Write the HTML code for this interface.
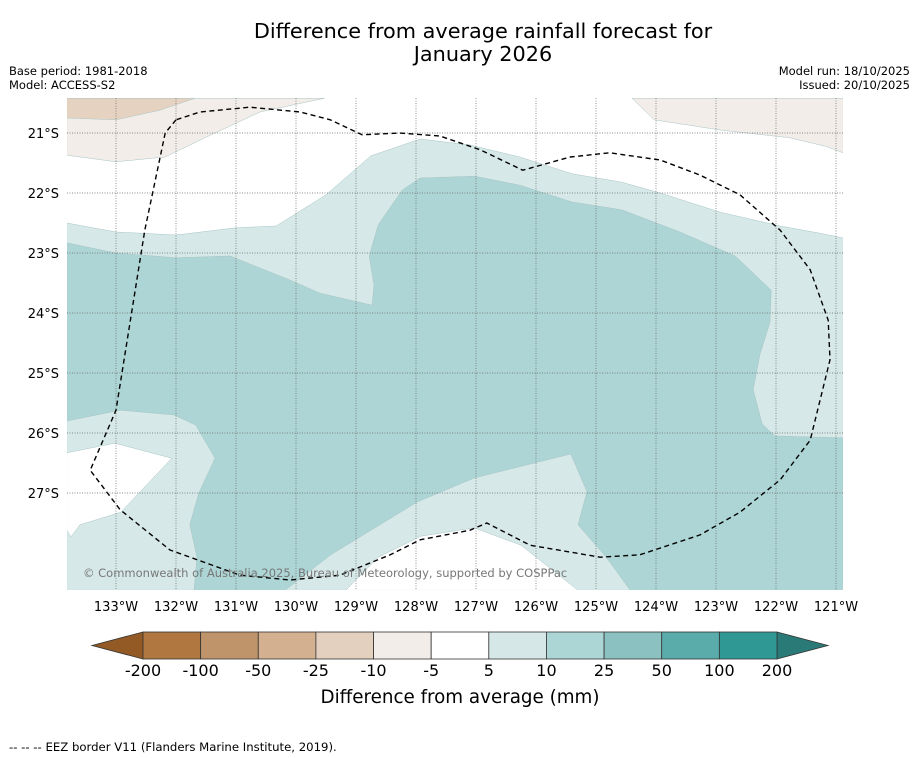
<!DOCTYPE html>
<html><head><meta charset="utf-8"><style>
body{margin:0;background:#fff;width:919px;height:758px;overflow:hidden;font-family:"DejaVu Sans","Liberation Sans",sans-serif}
svg{display:block;font-family:"DejaVu Sans","Liberation Sans",sans-serif}
</style></head><body>
<svg id="c" width="919" height="758" xmlns="http://www.w3.org/2000/svg">
<text x="483" y="38" font-size="20.8" text-anchor="middle">Difference from average rainfall forecast for</text>
<text x="483" y="61" font-size="20.8" text-anchor="middle">January 2026</text>
<text x="9" y="75" font-size="11.5">Base period: 1981-2018</text>
<text x="9" y="89" font-size="11.5">Model: ACCESS-S2</text>
<text x="910" y="75" font-size="11.5" text-anchor="end">Model run: 18/10/2025</text>
<text x="910" y="89" font-size="11.5" text-anchor="end">Issued: 20/10/2025</text>
<g id="map"></g>
<g id="cbar"></g>
<text x="460" y="703" font-size="18.3" text-anchor="middle">Difference from average (mm)</text>
<text x="9" y="751" font-size="11.7">--  --  -- EEZ border V11 (Flanders Marine Institute, 2019).</text>
</svg>
<script>
const lonTicks=[-133,-132,-131,-130,-129,-128,-127,-126,-125,-124,-123,-122,-121];
const latTicks=[-21,-22,-23,-24,-25,-26,-27];
const cbLevels=[-200,-100,-50,-25,-10,-5,5,10,25,50,100,200];
const cbColors=["#b07840","#c0946a","#d3b08f","#e4d0be","#f2ede8","#ffffff","#d5e8e7","#acd5d5","#8bc1c0","#5aacab","#309894"];
const lightTeal=[[-133.82,-22.5],[-133,-22.65],[-132,-22.7],[-131,-22.58],[-130.33,-22.55],[-129.5,-22.03],[-128.75,-21.38],[-127.93,-21.1],[-127.1,-21.2],[-126.27,-21.4],[-125.4,-21.68],[-124.57,-21.82],[-123.93,-22.0],[-122.93,-22.32],[-121.93,-22.55],[-121.27,-22.67],[-120.88,-22.75],[-120.88,-28.62],[-133.82,-28.62]];
const darkTeal=[[-133.82,-22.83],[-133,-23],[-132,-23.08],[-131.1,-23.05],[-130.1,-23.45],[-129.6,-23.67],[-128.73,-23.87],[-128.7,-23.53],[-128.78,-23.05],[-128.63,-22.53],[-128.23,-21.95],[-127.93,-21.75],[-127.02,-21.72],[-126.27,-21.87],[-125.4,-22.15],[-124.57,-22.28],[-123.6,-22.65],[-122.68,-23.05],[-122.08,-23.62],[-122.1,-24.15],[-122.27,-24.7],[-122.38,-25.28],[-122.23,-25.85],[-122.02,-26.05],[-120.88,-26.08],[-120.88,-28.62],[-124.43,-28.62],[-124.83,-28.07],[-125.3,-27.53],[-125.15,-26.98],[-125.42,-26.35],[-127.03,-26.75],[-127.98,-27.15],[-129.42,-28.03],[-130.18,-28.62],[-131.7,-28.62],[-131.65,-28.07],[-131.77,-27.53],[-131.62,-27.0],[-131.35,-26.42],[-131.67,-25.87],[-132.03,-25.7],[-132.93,-25.62],[-133.82,-25.8]];
const whiteLeft=[[-133.82,-26.33],[-133.02,-26.17],[-132.07,-26.42],[-132.92,-27.32],[-133.6,-27.53],[-133.75,-27.73],[-133.82,-27.62]];
const whiteBottom=[[-129.17,-28.62],[-128.63,-28.07],[-127.92,-27.72],[-127.03,-27.58],[-126.25,-27.87],[-125.3,-28.62]];
const brownLightTL=[[-133.82,-20.42],[-133.82,-21.37],[-133,-21.48],[-132.18,-21.4],[-131.52,-21.08],[-130.6,-20.65],[-129.52,-20.42]];
const brownDarkTL=[[-133.82,-20.42],[-133.82,-20.75],[-133,-20.78],[-132.27,-20.62],[-131.68,-20.42]];
const brownLightTR=[[-124.4,-20.42],[-124.03,-20.78],[-122.93,-20.95],[-121.77,-21.08],[-121.18,-21.22],[-120.88,-21.33],[-120.88,-20.42]];
const eez=[[-132,-20.78],[-132.18,-21],[-132.52,-22.62],[-133,-25.62],[-133.43,-26.62],[-132.93,-27.28],[-132.1,-27.95],[-130.93,-28.37],[-130.1,-28.45],[-129.27,-28.37],[-128.43,-28.03],[-127.93,-27.78],[-127.1,-27.62],[-126.82,-27.5],[-126.1,-27.87],[-124.93,-28.07],[-124.27,-28.03],[-123.27,-27.7],[-122.6,-27.32],[-121.93,-26.78],[-121.43,-26.12],[-121.1,-24.78],[-121.13,-24.12],[-121.43,-23.28],[-121.93,-22.62],[-122.6,-22.03],[-123.27,-21.7],[-123.93,-21.45],[-124.77,-21.33],[-125.43,-21.4],[-126.22,-21.62],[-126.93,-21.28],[-127.6,-21.05],[-128.27,-21],[-128.9,-21.03],[-129.43,-20.78],[-129.93,-20.65],[-130.77,-20.57],[-131.6,-20.65],[-132,-20.78]];

const NS="http://www.w3.org/2000/svg";
const X0=67,X1=843,Y0=98,Y1=590;
const xS=lon=>116+(lon+133)*60;
const yS=lat=>133-(lat+21)*60;
function mk(tag,attrs,parent){const e=document.createElementNS(NS,tag);for(const k in attrs)e.setAttribute(k,attrs[k]);parent.appendChild(e);return e;}
const map=document.getElementById('map');
const pts=a=>a.map(p=>xS(p[0]).toFixed(1)+','+yS(p[1]).toFixed(1)).join(' ');
const defs=mk('defs',{},map);
const cp=mk('clipPath',{id:'clip'},defs);
mk('rect',{x:X0,y:Y0,width:X1-X0,height:Y1-Y0},cp);
const g=mk('g',{'clip-path':'url(#clip)'},map);
mk('rect',{x:X0,y:Y0,width:X1-X0,height:Y1-Y0,fill:'#fff'},g);
const polys=[[lightTeal,'#d6e9e8','light-teal-region'],[darkTeal,'#add5d5','teal-region'],[whiteLeft,'#ffffff','white-region-west'],[whiteBottom,'#ffffff','white-region-south'],[brownLightTL,'#f2ede8','light-brown-region-nw'],[brownDarkTL,'#e6d2c0','brown-region-nw'],[brownLightTR,'#f2ede8','light-brown-region-ne']];
polys.forEach(([d,c,n])=>{
  const p=mk('polygon',{points:pts(d),fill:c,stroke:'#a8c4c4','stroke-width':0.5},g);
  
  
});
lonTicks.forEach(l=>{
  const x=xS(l);
  const ln=mk('line',{x1:x,x2:x,y1:Y0,y2:Y1,stroke:'#666','stroke-width':0.7,'stroke-dasharray':'1,1.5'},g);
  
  
  const t=mk('text',{x:x,y:611,'font-size':13,'text-anchor':'middle'},map);
  t.textContent=Math.abs(l)+'°W';
  
  
});
latTicks.forEach(l=>{
  const y=yS(l);
  const ln=mk('line',{x1:X0,x2:X1,y1:y,y2:y,stroke:'#666','stroke-width':0.7,'stroke-dasharray':'1,1.5'},g);
  
  
  const t=mk('text',{x:59,y:y+5,'font-size':13,'text-anchor':'end'},map);
  t.textContent=Math.abs(l)+'°S';
  
  
});
const e=mk('polyline',{points:pts(eez),fill:'none',stroke:'#000','stroke-width':1.4,'stroke-dasharray':'5,3.5','stroke-linejoin':'round'},g);


const cr=mk('text',{x:83,y:577,'font-size':11.5,fill:'#777'},map);
cr.textContent='© Commonwealth of Australia 2025, Bureau of Meteorology, supported by COSPPac';



const cb=document.getElementById('cbar');
const CX0=143,CX1=777,CY0=632,CY1=659,n=cbColors.length,w=(CX1-CX0)/n;
const la=mk('polygon',{points:`92,${(CY0+CY1)/2} ${CX0},${CY0} ${CX0},${CY1}`,fill:'#935a25',stroke:'#333','stroke-width':0.8},cb);


const ra=mk('polygon',{points:`828,${(CY0+CY1)/2} ${CX1},${CY0} ${CX1},${CY1}`,fill:'#2a7a78',stroke:'#333','stroke-width':0.8},cb);


cbColors.forEach((c,i)=>{
  const r=mk('rect',{x:CX0+i*w,y:CY0,width:w,height:CY1-CY0,fill:c,stroke:'#333','stroke-width':0.8},cb);
  
  
});
cbLevels.forEach((v,i)=>{
  const t=mk('text',{x:CX0+i*w,y:676,'font-size':16,'text-anchor':'middle'},cb);
  t.textContent=v;
  
  
});
</script>
</body></html>
